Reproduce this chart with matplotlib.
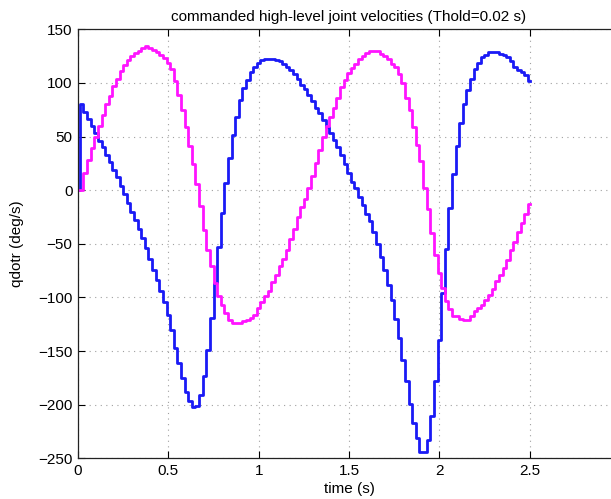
import numpy as np
import matplotlib
matplotlib.use('Agg')
import matplotlib.pyplot as plt

plt.rcParams['font.family'] = ['Liberation Sans', 'DejaVu Sans']
plt.rcParams['font.size'] = 11

# sample times, Thold = 0.02 s
t = np.round(np.arange(0, 2.5001, 0.02), 2)

# joint 1 (blue), deg/s
qdot1 = [0, 80, 73, 66, 60, 53, 46, 40, 33, 26,
         19, 12, 4, -4, -12, -20, -28, -36, -45, -54,
         -64, -74, -84, -94, -104, -116, -130, -147, -161, -175,
         -188, -197, -202, -201, -191, -173, -149, -119, -87, -53,
         -21, 7, 30, 51, 68, 84, 95, 103, 110, 115,
         119, 121, 122, 122, 122, 121, 120, 118, 115, 112,
         108, 104, 98, 94, 89, 83, 77, 72, 65, 59,
         53, 47, 40, 33, 24, 16, 8, 2, -6, -14,
         -22, -29, -39, -50, -62, -74, -88, -102, -120, -138,
         -158, -178, -199, -217, -231, -244, -244, -233, -211, -178,
         -140, -96, -55, -17, 15, 41, 63, 80, 93, 104,
         113, 119, 124, 126, 129, 129, 129, 127, 126, 124,
         120, 115, 112, 110, 107, 102]

# joint 2 (magenta), deg/s
qdot2 = [0, 0, 16, 28, 39, 50, 60, 70, 80, 88,
         97, 104, 111, 117, 121, 125, 128, 130, 133, 134,
         133, 131, 129, 126, 123, 119, 113, 102, 89, 75,
         59, 41, 24, 6, -15, -37, -56, -71, -87, -99,
         -107, -115, -121, -124, -124, -124, -122, -121, -119, -116,
         -110, -104, -99, -94, -86, -79, -71, -64, -56, -46,
         -36, -25, -16, -8, 2, 13, 25, 37, 50, 60,
         68, 77, 86, 96, 103, 109, 114, 118, 122, 125,
         128, 130, 130, 130, 127, 125, 122, 118, 115, 108,
         100, 86, 75, 59, 42, 27, 2, -18, -40, -60,
         -77, -91, -103, -111, -117, -117, -120, -121, -121, -117,
         -113, -110, -107, -102, -98, -92, -85, -79, -73, -65,
         -56, -48, -39, -31, -22, -13]

fig = plt.figure(figsize=(6.11, 4.99), dpi=100)
ax = fig.add_axes([0.1277, 0.0816, 0.887, 0.8597])

ax.step(t, qdot1, where='mid', color='#1a1af5', lw=2.0)
ax.step(t, qdot2, where='mid', color='#ff14ff', lw=2.0)

# axis runs to 3 s, but the figure is cropped just before it
ax.set_xlim(0, 3)
ax.set_ylim(-250, 150)
ax.set_xticks(np.arange(0, 2.51, 0.5))
ax.set_xticklabels(['0', '0.5', '1', '1.5', '2', '2.5'])
ax.set_yticks(np.arange(-250, 151, 50))
ax.grid(True, color='#a0a0a0', linestyle=(0, (1, 4)), lw=0.8)
ax.tick_params(direction='in', top=True, right=True, length=5, width=0.8, pad=4)
for s in ax.spines.values():
    s.set_linewidth(0.9)
    s.set_color('#222222')

ax.set_title('commanded high-level joint velocities (Thold=0.02 s)', fontsize=11, pad=6)
ax.set_xlabel('time (s)', fontsize=11, labelpad=3)
ax.set_ylabel('qdotr (deg/s)', fontsize=11, labelpad=10)

plt.savefig('out.png', dpi=100)
